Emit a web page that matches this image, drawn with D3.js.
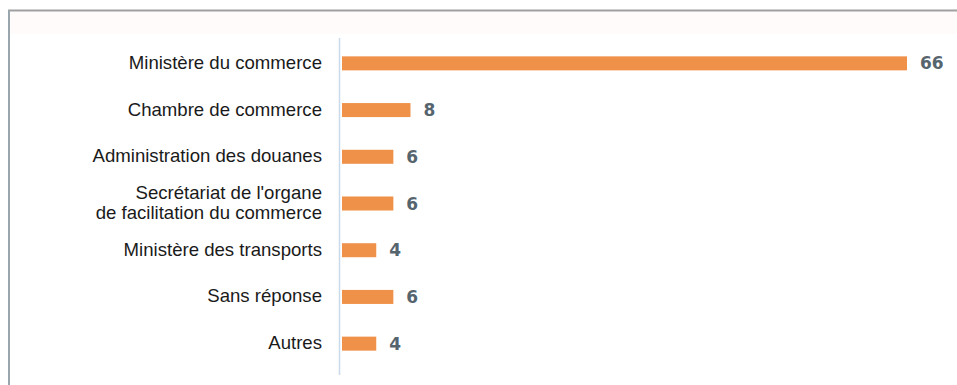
<!DOCTYPE html>
<html><head><meta charset="utf-8">
<script src="https://cdn.jsdelivr.net/npm/d3@7"></script>
<style>body{margin:0;background:#fff;}svg{display:block;}</style>
</head><body>
<svg id="c" width="957" height="385"></svg>
<script>
const categories = [
  ["Ministère du commerce"],
  ["Chambre de commerce"],
  ["Administration des douanes"],
  ["Secrétariat de l'organe", "de facilitation du commerce"],
  ["Ministère des transports"],
  ["Sans réponse"],
  ["Autres"]
];
const values = [66, 8, 6, 6, 4, 6, 4];

const svg = d3.select("#c");
// frame
svg.append("rect").attr("x", 10).attr("y", 12).attr("width", 947).attr("height", 22).attr("fill", "#fefbfa");
svg.append("line").attr("x1", 8).attr("x2", 957).attr("y1", 10.5).attr("y2", 10.5).attr("stroke", "#a0a0a0").attr("stroke-width", 2);
svg.append("line").attr("x1", 9).attr("x2", 9).attr("y1", 10).attr("y2", 385).attr("stroke", "#9aa6ad").attr("stroke-width", 2);

const x = d3.scaleLinear().domain([0, 66]).range([342, 907]);
const y = d3.scaleBand().domain(d3.range(categories.length)).range([40, 367]).paddingInner(0.7).paddingOuter(0.35);

// axis line
svg.append("line").attr("x1", 339.5).attr("x2", 339.5).attr("y1", 38).attr("y2", 375).attr("stroke", "#c9dbea").attr("stroke-width", 1.5);

const g = svg.append("g");
g.selectAll("rect.bar").data(values).join("rect").attr("class", "bar")
  .attr("x", x(0)).attr("y", (d, i) => y(i))
  .attr("width", d => x(d) - x(0)).attr("height", y.bandwidth())
  .attr("fill", "#f0914a");

g.selectAll("text.val").data(values).join("text").attr("class", "val")
  .attr("x", d => x(d) + 13).attr("y", (d, i) => y(i) + y.bandwidth() / 2)
  .attr("dy", "0.36em")
  .attr("font-family", "'DejaVu Sans', sans-serif").attr("font-size", 17).attr("font-weight", "bold")
  .attr("fill", "#56646e").text(d => d);

const lab = g.selectAll("text.lab").data(categories).join("text").attr("class", "lab")
  .attr("text-anchor", "end")
  .attr("font-family", "'Liberation Sans', Arial, sans-serif").attr("font-size", 18.6)
  .attr("fill", "#1a1a1a");
lab.each(function(lines, i) {
  const t = d3.select(this);
  const cy = y(i) + y.bandwidth() / 2 - 1;
  const lh = 20;
  lines.forEach((s, k) => {
    t.append("tspan").attr("x", 322)
      .attr("y", cy + (k - (lines.length - 1) / 2) * lh)
      .attr("dy", "0.35em").text(s);
  });
});
</script>
</body></html>
